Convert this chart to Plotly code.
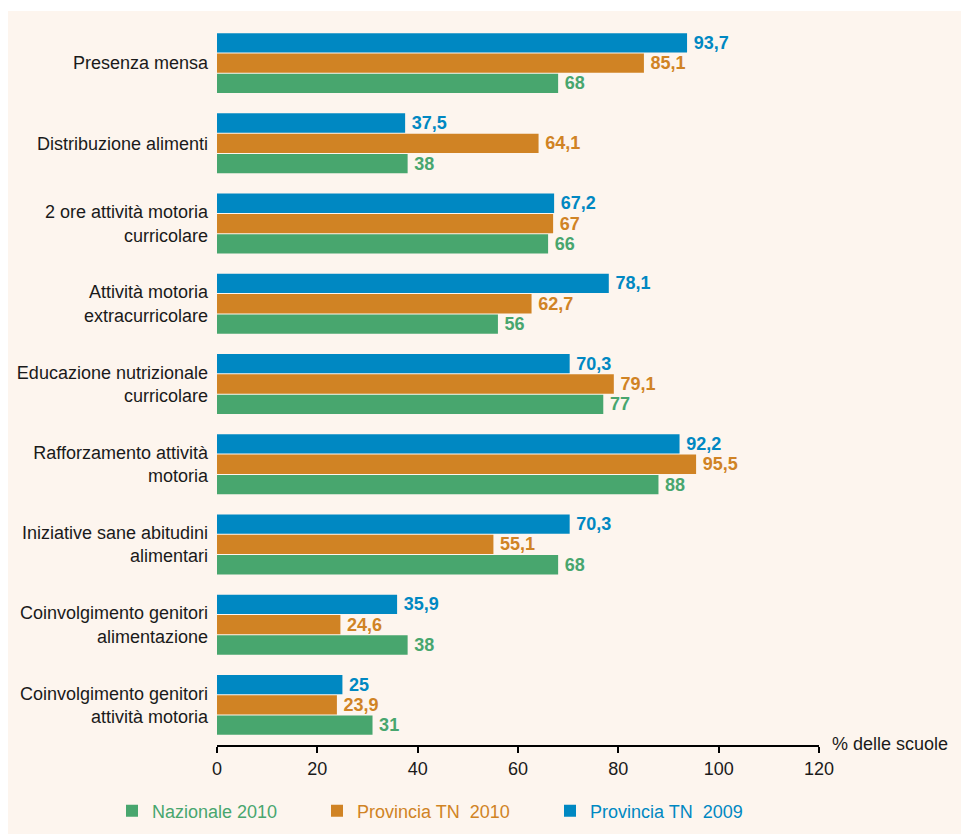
import plotly.graph_objects as go

categorie = [
    "Presenza mensa",
    "Distribuzione alimenti",
    "2 ore attività motoria<br>curricolare",
    "Attività motoria<br>extracurricolare",
    "Educazione nutrizionale<br>curricolare",
    "Rafforzamento attività<br>motoria",
    "Iniziative sane abitudini<br>alimentari",
    "Coinvolgimento genitori<br>alimentazione",
    "Coinvolgimento genitori<br>attività motoria",
]
nazionale_2010 = [68, 38, 66, 56, 77, 88, 68, 38, 31]
tn_2010 = [85.1, 64.1, 67, 62.7, 79.1, 95.5, 55.1, 24.6, 23.9]
tn_2009 = [93.7, 37.5, 67.2, 78.1, 70.3, 92.2, 70.3, 35.9, 25]

x_ticks = [0, 20, 40, 60, 80, 100, 120]

BLU = "#0088C2"
ARANCIO = "#D08324"
VERDE = "#48A66E"
BEIGE = "#FDF5EE"
FONT = "Liberation Sans, Arial, sans-serif"


def etichetta(v):
    # thin space before the number, decimal comma
    return "\u2009" + f"{v:g}".replace(".", ",")


serie = [
    ("Provincia TN\u00a0 2009", tn_2009, BLU, "legend3"),
    ("Provincia TN\u00a0 2010", tn_2010, ARANCIO, "legend2"),
    ("Nazionale 2010", nazionale_2010, VERDE, "legend"),
]

fig = go.Figure()
for nome, valori, colore, leg in serie:
    fig.add_trace(go.Bar(
        name=nome,
        y=categorie,
        x=valori,
        orientation="h",
        marker=dict(color=colore, line=dict(width=0)),
        text=[etichetta(v) for v in valori],
        textposition="outside",
        constraintext="none",
        cliponaxis=False,
        textfont=dict(family=FONT, size=18, color=colore, weight="bold"),
        legend=leg,
        hoverinfo="skip",
    ))

# page pixels; plot area spans x 217..819, y 23..745
W, H = 961, 834
L, R, T, B = 217, W - 819, 23, H - 745
PW = W - L - R
PH = H - T - B


def px_x(p):
    return (p - L) / PW


def px_y(p):
    return (H - B - p) / PH


def legenda(x_px, colore):
    # container coordinates, so the legends do not push the plot margins
    return dict(
        orientation="h", xref="container", yref="container",
        x=x_px / W, xanchor="left",
        y=1 - 811 / H, yanchor="middle",
        bgcolor="rgba(0,0,0,0)",
        font=dict(family=FONT, size=18, color=colore),
    )


fig.update_layout(
    width=W, height=H,
    margin=dict(l=L, r=R, t=T, b=B, pad=0, autoexpand=False),
    paper_bgcolor="white",
    plot_bgcolor=BEIGE,
    showlegend=True,
    barmode="group",
    bargap=0.24,
    bargroupgap=0.05,
    font=dict(family=FONT, size=18, color="#1a1a1a"),
    legend=legenda(112, VERDE),
    legend2=legenda(317, ARANCIO),
    legend3=legenda(550, BLU),
    xaxis=dict(
        range=[0, 120], tickvals=x_ticks, showgrid=False, zeroline=False,
        showline=True, linecolor="black", linewidth=2,
        ticks="outside", ticklen=6, tickwidth=2, tickcolor="black",
        tickfont=dict(size=18, color="#1a1a1a"),
    ),
    yaxis=dict(
        autorange="reversed", showgrid=False, zeroline=False,
        showline=False, ticks="", ticklabelstandoff=8,
        tickfont=dict(size=18, color="#1a1a1a"),
    ),
    shapes=[dict(
        type="rect", xref="paper", yref="paper", layer="below",
        x0=px_x(8), x1=px_x(W), y0=px_y(H), y1=px_y(11),
        fillcolor=BEIGE, line=dict(width=0),
    )],
    annotations=[dict(
        text="% delle scuole", xref="paper", yref="paper",
        x=px_x(830), y=px_y(744), xanchor="left", yanchor="middle",
        showarrow=False, font=dict(size=18, color="#1a1a1a"),
    )],
)

# drop the default body margin so the figure fills the window exactly
fig.write_html(
    "out.html",
    config={"displayModeBar": False},
    post_script="document.body.style.margin = '0';",
)
